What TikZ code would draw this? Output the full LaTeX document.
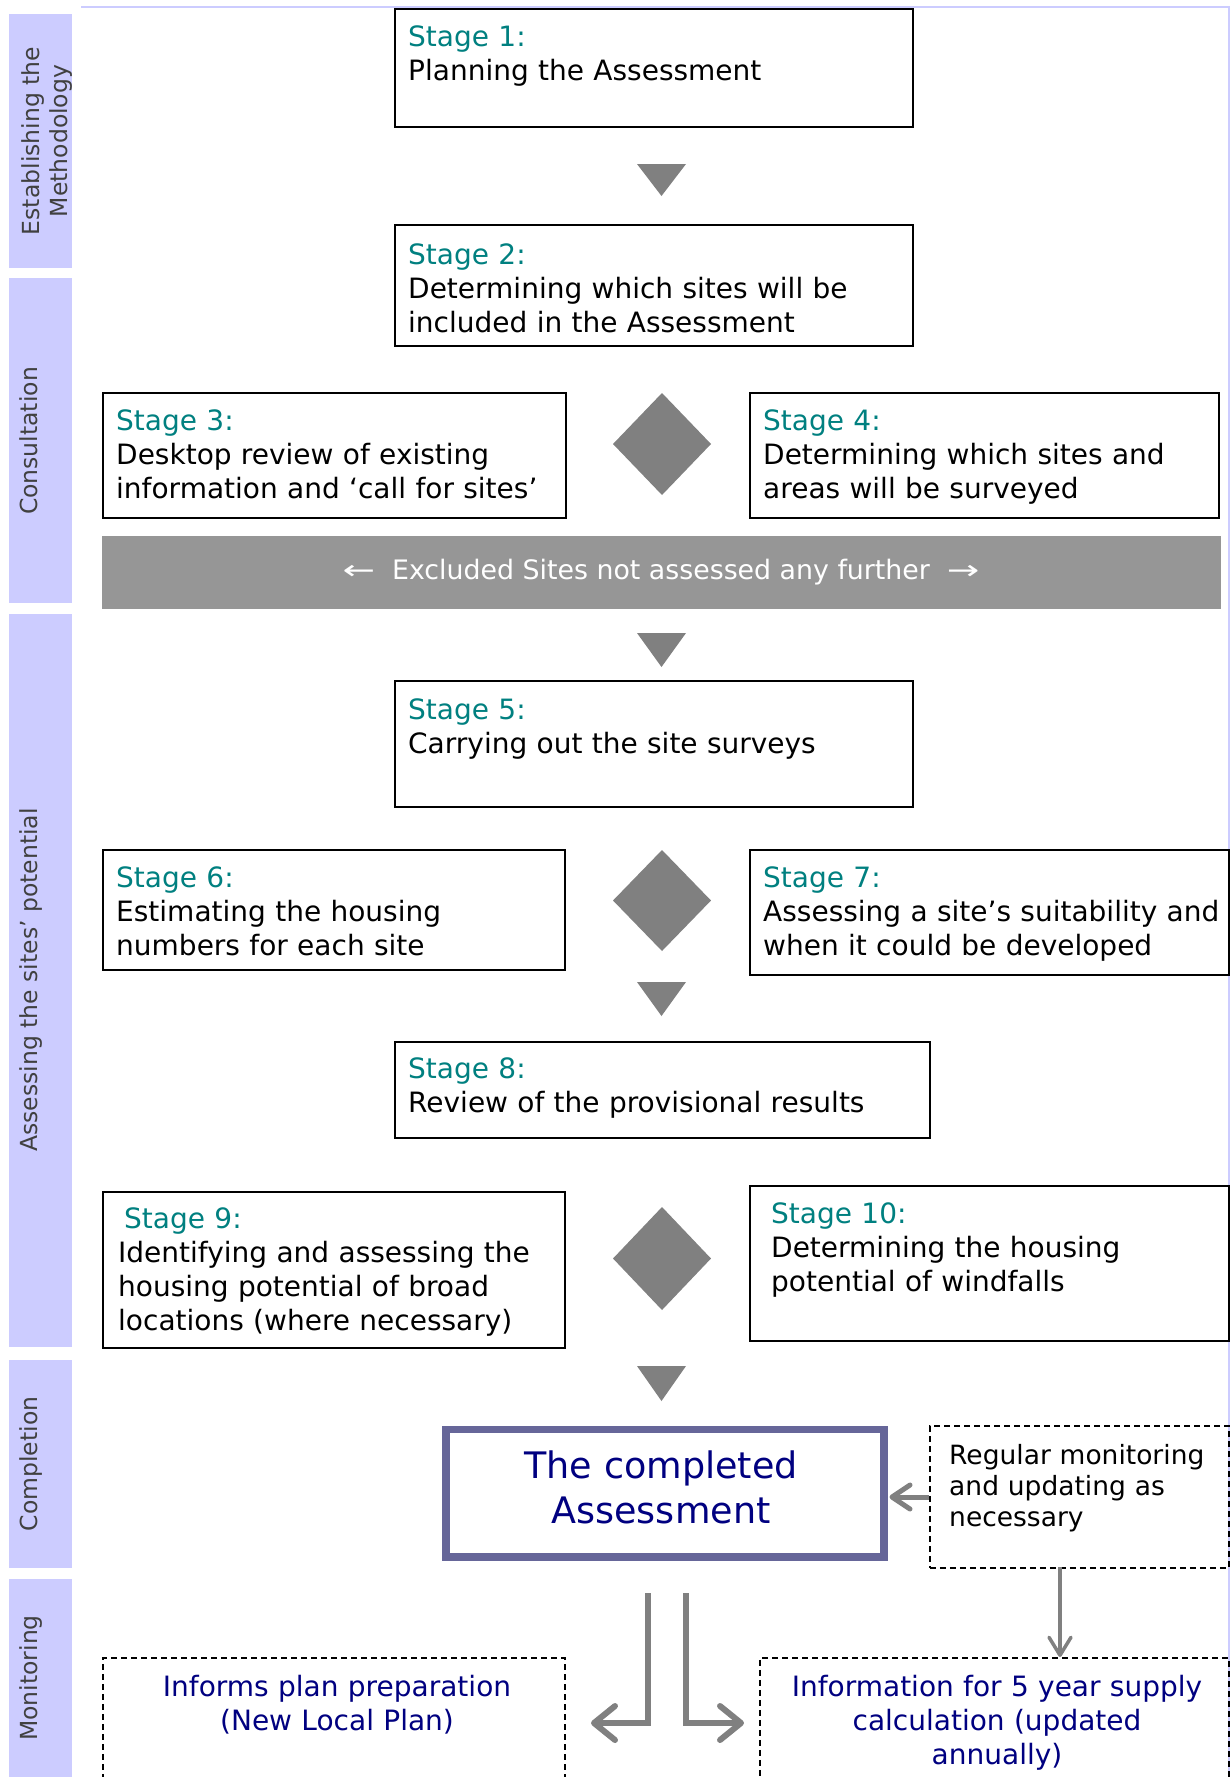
\documentclass[tikz,border=0pt]{standalone}
\usepackage{fontspec}
\usepackage{graphicx}
\setmainfont{DejaVu Sans}
\usetikzlibrary{arrows.meta}
\definecolor{lav}{HTML}{CCCCFF}
\definecolor{stg}{HTML}{008080}
\definecolor{tri}{HTML}{808080}
\definecolor{bandgrey}{HTML}{969696}
\definecolor{navyblue}{HTML}{000080}
\definecolor{framecol}{HTML}{666699}
\definecolor{sidecol}{HTML}{404040}
\tikzset{
  stagebox/.style={draw=black, line width=2pt, rectangle, inner sep=0pt, anchor=north west, fill=white},
  dashbox/.style={draw=black, line width=1.6pt, dash pattern=on 6pt off 4pt, rectangle, inner sep=0pt, anchor=north west},
  txt/.style={anchor=base west, inner sep=0pt, font=\fontsize{28}{34}\selectfont, text width=480pt, align=left},
  sidelab/.style={anchor=base, rotate=90, inner sep=0pt, text=sidecol, font=\fontsize{23.5}{28}\selectfont},
  sidebar/.style={fill=lav, draw=none, rectangle, inner sep=0pt, anchor=north west, minimum width=63pt},
  marker/.style={fill=tri},
  garrow/.style={draw=tri, line width=6pt, -{Straight Barb[length=21pt,width=34pt,line cap=round,line join=round]}},
  sarrow/.style={draw=tri, line width=5pt, -{Straight Barb[length=18pt,width=24pt,line cap=round,line join=round]}},
  darrow/.style={draw=tri, line width=3.5pt, -{Straight Barb[length=18pt,width=22pt,line cap=round,line join=round]}}
}
\begin{document}
\begin{tikzpicture}[x=1pt,y=-1pt]
\path[use as bounding box, clip] (0,0) rectangle (1230,1777);
\fill[white] (0,0) rectangle (1230,1777);
% frame lines
\draw[lav, line width=2pt] (81,7) -- (1230,7);
\draw[lav, line width=2pt] (1229,7) -- (1229,1777);
% side bars
\node[sidebar, minimum height=254pt] (b1) at (9,14) {};
\node[sidebar, minimum height=325pt] (b2) at (9,278) {};
\node[sidebar, minimum height=733pt] (b3) at (9,614) {};
\node[sidebar, minimum height=208pt] (b4) at (9,1360) {};
\node[sidebar, minimum height=210pt] (b5) at (9,1579) {};
\node[sidelab] (l1a) at (39,141) {Establishing the};
\node[sidelab] (l1b) at (67,141) {Methodology};
\node[sidelab] (l2) at (37,441) {Consultation};
\node[sidelab] (l3) at (37,980) {Assessing the sites’ potential};
\node[sidelab] (l4) at (37,1464) {Completion};
\node[sidelab] (l5) at (37,1678) {Monitoring};
% stage boxes
\node[stagebox, minimum width=518pt, minimum height=118pt] (s1) at (394,8) {};
\node[stagebox, minimum width=518pt, minimum height=121pt] (s2) at (394,224) {};
\node[stagebox, minimum width=463pt, minimum height=125pt] (s3) at (102,392) {};
\node[stagebox, minimum width=469pt, minimum height=125pt] (s4) at (749,392) {};
\node[fill=bandgrey, rectangle, inner sep=0pt, anchor=north west, minimum width=1119pt, minimum height=73pt] (band) at (102,536) {};
\node[anchor=base, inner sep=0pt, text=white, font=\fontsize{26.8}{33.5}\selectfont] (bandt) at (661,579) {\scalebox{1.45}[1]{←}\hspace{17pt}Excluded Sites not assessed any further\hspace{17pt}\scalebox{1.45}[1]{→}};
\node[stagebox, minimum width=518pt, minimum height=126pt] (s5) at (394,680) {};
\node[stagebox, minimum width=462pt, minimum height=120pt] (s6) at (102,849) {};
\node[stagebox, minimum width=479pt, minimum height=125pt] (s7) at (749,849) {};
\node[stagebox, minimum width=535pt, minimum height=96pt] (s8) at (394,1041) {};
\node[stagebox, minimum width=462pt, minimum height=156pt] (s9) at (102,1191) {};
\node[stagebox, minimum width=479pt, minimum height=155pt] (s10) at (749,1185) {};
% stage texts
\node[txt] (s1t) at (408,47) {\textcolor{stg}{Stage 1:}\\Planning the Assessment};
\node[txt] (s2t) at (408,264) {\textcolor{stg}{Stage 2:}\\Determining which sites will be\\included in the Assessment};
\node[txt] (s3t) at (116,430) {\textcolor{stg}{Stage 3:}\\Desktop review of existing\\information and ‘call for sites’};
\node[txt] (s4t) at (763,430) {\textcolor{stg}{Stage 4:}\\Determining which sites and\\areas will be surveyed};
\node[txt] (s5t) at (408,719) {\textcolor{stg}{Stage 5:}\\Carrying out the site surveys};
\node[txt] (s6t) at (116,887) {\textcolor{stg}{Stage 6:}\\Estimating the housing\\numbers for each site};
\node[txt] (s7t) at (763,887) {\textcolor{stg}{Stage 7:}\\Assessing a site’s suitability and\\when it could be developed};
\node[txt] (s8t) at (408,1078) {\textcolor{stg}{Stage 8:}\\Review of the provisional results};
\node[txt] (s9t) at (118,1228) {\hspace*{6pt}\textcolor{stg}{Stage 9:}\\Identifying and assessing the\\housing potential of broad\\locations (where necessary)};
\node[txt] (s10t) at (771,1223) {\textcolor{stg}{Stage 10:}\\Determining the housing\\potential of windfalls};
% markers
\fill[marker] (637,164) -- (686,164) -- (661.5,196) -- cycle;
\fill[marker] (613,444) -- (662,393) -- (711,444) -- (662,495) -- cycle;
\fill[marker] (637,633) -- (686,633) -- (661.5,667) -- cycle;
\fill[marker] (613,900.5) -- (662,850) -- (711,900.5) -- (662,951) -- cycle;
\fill[marker] (637,982) -- (686,982) -- (661.5,1016) -- cycle;
\fill[marker] (613,1258.5) -- (662,1207) -- (711,1258.5) -- (662,1310) -- cycle;
\fill[marker] (637,1366) -- (686,1366) -- (661.5,1401) -- cycle;
% completion
\node[draw=framecol, line width=7.5pt, rectangle, inner sep=0pt, anchor=north west, minimum width=438pt, minimum height=127.5pt] (comp) at (442,1425.5) {};
\node[anchor=base, inner sep=0pt, text=navyblue, font=\fontsize{36.5}{45}\selectfont, text width=420pt, align=center] (compt) at (661,1478) {The completed\\Assessment};
\node[dashbox, minimum width=299pt, minimum height=142pt] (reg) at (929,1425) {};
\node[anchor=base west, inner sep=0pt, font=\fontsize{26.5}{31}\selectfont, text width=280pt, align=left] (regt) at (949,1464) {Regular monitoring\\and updating as\\necessary};
\node[dashbox, minimum width=462pt, minimum height=160pt] (inf1) at (102,1657) {};
\node[dashbox, minimum width=469pt, minimum height=160pt] (inf2) at (759,1657) {};
\node[anchor=base, inner sep=0pt, text=navyblue, font=\fontsize{28}{34}\selectfont, text width=450pt, align=center] (inf1t) at (337,1696) {Informs plan preparation\\(New Local Plan)};
\node[anchor=base, inner sep=0pt, text=navyblue, font=\fontsize{28}{34}\selectfont, text width=465pt, align=center] (inf2t) at (997,1696) {Information for 5 year supply\\calculation (updated\\annually)};
% arrows
\coordinate (rw) at (929,1497);
\draw[sarrow, shorten >=2pt] (rw) -- (comp.east |- rw);
\coordinate (rs) at (1060,1567);
\draw[darrow] (rs) -- (inf2.north -| rs);
\coordinate (la) at (648,1593);
\coordinate (ltip) at (591,1723);
\coordinate (ra) at (686,1593);
\coordinate (rtip) at (744,1723);
\draw[garrow] (la) |- (ltip);
\draw[garrow] (ra) |- (rtip);
\end{tikzpicture}
\end{document}
